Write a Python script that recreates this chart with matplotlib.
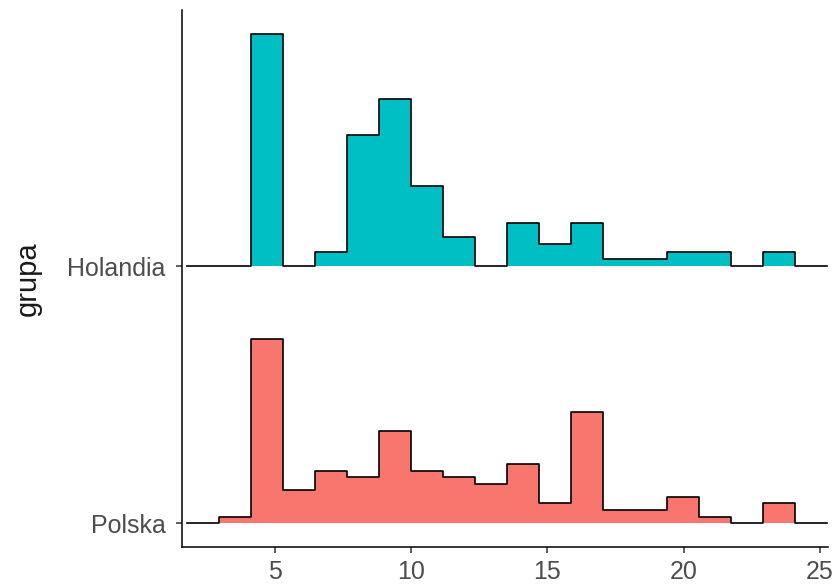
import numpy as np
import matplotlib.pyplot as plt

# ridgeline histogram (ggridges style), counts
groups = ['Polska', 'Holandia']
colors = ['#F8766D', '#00BFC4']
bin_lo = 1.75
bin_hi = 25.28
n_bins = 20
polska_counts = [0, 1, 28, 5, 8, 7, 14, 8, 7, 6, 9, 3, 17, 2, 2, 4, 1, 0, 3, 0]
holandia_counts = [0, 0, 32, 0, 2, 18, 23, 11, 4, 0, 6, 3, 6, 1, 1, 2, 2, 0, 2, 0]
x_ticks = [5, 10, 15, 20, 25]

plt.rcParams['font.family'] = ['Liberation Sans', 'DejaVu Sans']

W, H = 833, 584
fig = plt.figure(figsize=(W / 100, H / 100), dpi=100)
ax = fig.add_axes([182 / W, 1 - 547 / H, (828 - 182) / W, (547 - 10) / H])

edges = np.linspace(bin_lo, bin_hi, n_bins + 1)
width = edges[1] - edges[0]
dens = [np.array(c) / (sum(c) * width) for c in (polska_counts, holandia_counts)]
scale = 0.903 / max(d.max() for d in dens)

for i in reversed(range(len(groups))):
    base = i + 1
    y = base + dens[i] * scale
    y = np.append(y, y[-1])
    ax.fill_between(edges, y, base, step='post', color=colors[i], lw=0)
    ax.step(edges, y, where='post', color='black', lw=1.2)

ax.set_xlim(1.566, 25.31)
ax.set_ylim(0.907, 2.996)

for s in ['top', 'right']:
    ax.spines[s].set_visible(False)
for s in ['left', 'bottom']:
    ax.spines[s].set_linewidth(1.1)
    ax.spines[s].set_color('black')

ax.set_xticks(x_ticks)
ax.set_yticks([1, 2])
ax.set_yticklabels(groups)
ax.tick_params(axis='both', length=4.3, width=1.1, color='#333333',
               labelcolor='#4D4D4D', labelsize=18)
ax.tick_params(axis='y', pad=7.5)
ax.tick_params(axis='x', pad=5)

fig.text(28 / W, 1 - 279 / H, 'grupa', rotation=90, ha='center', va='center',
         fontsize=21, color='#1A1A1A')

fig.savefig('out.png', dpi=100)
